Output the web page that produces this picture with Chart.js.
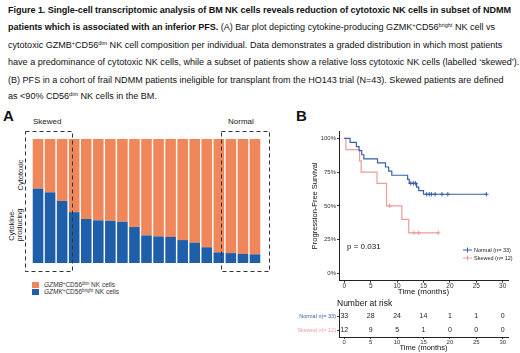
<!DOCTYPE html>
<html lang="en">
<head>
<meta charset="UTF-8">
<title>Figure 1 - BM NK cells</title>
<script src="https://cdn.jsdelivr.net/npm/chart.js"></script>
<style>
  body { margin: 0; background: #fff; font-family: "Liberation Sans", Arial, sans-serif; color: #111; }
  #page { position: relative; width: 520px; height: 353px; overflow: hidden; }
  .abs { position: absolute; white-space: nowrap; }
  .cap { left: 8px; font-size: 9.05px; line-height: 10px; }
  .cap b { letter-spacing: -0.04px; }
  .cap sup { font-size: 5.5px; vertical-align: 3px; line-height: 0; }
  .panel { font-weight: bold; font-size: 15px; line-height: 15px; }
  .rot { position: absolute; transform: translate(-50%, -50%) rotate(-90deg); text-align: center; white-space: nowrap; }
  .leg { font-size: 6.5px; line-height: 7px; color: #333; }
  .leg i { font-style: italic; }
  .leg sup { font-size: 4.5px; vertical-align: 2px; line-height: 0; }
  .sw { display: inline-block; width: 7px; height: 6px; vertical-align: -1px; margin-right: 5px; }
  canvas { position: absolute; }
</style>
</head>
<body>
<div id="page">
  <div class="abs cap" style="top:5px"><b>Figure 1. Single-cell transcriptomic analysis of BM NK cells reveals reduction of cytotoxic NK cells in subset of NDMM</b></div>
  <div class="abs cap" style="top:22px"><b>patients which is associated with an inferior PFS.</b> (A) Bar plot depicting cytokine-producing GZMK<sup>+</sup>CD56<sup>bright</sup> NK cell vs</div>
  <div class="abs cap" style="top:40px">cytotoxic GZMB<sup>+</sup>CD56<sup>dim</sup> NK cell composition per individual. Data demonstrates a graded distribution in which most patients</div>
  <div class="abs cap" style="top:57px">have a predominance of cytotoxic NK cells, while a subset of patients show a relative loss cytotoxic NK cells (labelled ‘skewed’).</div>
  <div class="abs cap" style="top:75px">(B) PFS in a cohort of frail NDMM patients ineligible for transplant from the HO143 trial (N=43). Skewed patients are defined</div>
  <div class="abs cap" style="top:91px">as &lt;90% CD56<sup>dim</sup> NK cells in the BM.</div>

  <div class="abs panel" style="left:3px; top:108px">A</div>
  <div class="abs panel" style="left:296px; top:108px">B</div>

  <div class="abs" style="left:33px; top:117px; font-size:8px; color:#222">Skewed</div>
  <div class="abs" style="left:228px; top:117px; font-size:8px; color:#222">Normal</div>
  <div class="rot" style="left:20px; top:175px; font-size:7.5px; color:#222">Cytotoxic</div>
  <div class="rot" style="left:16px; top:225px; font-size:7.5px; line-height:8px; color:#222">Cytokine-<br>producing</div>

  <canvas id="barA" width="255" height="152" style="left:20px; top:125px"></canvas>

  <div class="abs leg" style="left:32px; top:281px"><span class="sw" style="background:#F0875A"></span><i>GZMB</i><sup>+</sup>CD56<sup>dim</sup> NK cells</div>
  <div class="abs leg" style="left:32px; top:288px"><span class="sw" style="background:#1F5FAA"></span><i>GZMK</i><sup>+</sup>CD56<sup>bright</sup> NK cells</div>

  <canvas id="km" width="224" height="180" style="left:296px; top:125px"></canvas>
  <div class="abs" style="left:347px; top:242px; font-size:8px; color:#111">p = 0.031</div>

  <canvas id="risk" width="224" height="53" style="left:296px; top:300px"></canvas>
  <div class="abs" style="left:337px; top:298px; font-size:8.5px; color:#111">Number at risk</div>
</div>

<script>
  // panel A: per-patient composition (% of NK cells), sorted
  const patients = ['P1','P2','P3','P4','P5','P6','P7','P8','P9','P10','P11','P12','P13','P14','P15','P16','P17','P18','P19'];
  const gzmkBright = [60, 57, 50, 41, 35.5, 34.4, 34, 33.3, 29, 22.3, 21.5, 21, 18.5, 16.4, 12.7, 8.6, 8, 7.3, 7];
  const gzmbDim = [40, 43, 50, 59, 64.5, 65.6, 66, 66.7, 71, 77.7, 78.5, 79, 81.5, 83.6, 87.3, 91.4, 92, 92.7, 93];

  // panel B: Kaplan-Meier steps (months, % progression-free)
  const normalTime = [0, 1.1, 2.3, 2.8, 3.3, 3.7, 6.3, 7.8, 8.4, 9.0, 12.0, 12.3, 13.7, 14.1, 15.0, 26.9];
  const normalSurv = [100, 97.0, 93.9, 90.9, 87.9, 84.8, 81.8, 78.8, 75.8, 72.7, 69.7, 66.7, 63.9, 61.3, 58.6, 58.6];
  const normalCensTime = [12.6, 13.1, 13.5, 15.6, 16.1, 16.5, 17.2, 18.5, 19.6, 26.9];
  const normalCensSurv = [66.7, 66.7, 66.7, 58.6, 58.6, 58.6, 58.6, 58.6, 58.6, 58.6];
  const skewedTime = [0, 0.3, 2.9, 3.2, 6.2, 8.0, 10.9, 12.2, 17.8];
  const skewedSurv = [100, 91.7, 83.3, 75.0, 66.7, 50.0, 40.0, 30.0, 30.0];
  const skewedCensTime = [8.6, 13.2, 14.1, 17.8];
  const skewedCensSurv = [50, 30, 30, 30];

  const timeTicks = [0, 5, 10, 15, 20, 25, 30];
  const survTicks = [0, 25, 50, 75, 100];

  // number at risk table
  const riskGroups = ['Normal n(= 33)', 'Skewed n(= 12)'];
  const riskNormal = [33, 28, 24, 14, 1, 1, 0];
  const riskSkewed = [12, 9, 5, 1, 0, 0, 0];

  const orange = '#F0875A', blue = '#1F5FAA';
  const kmBlue = '#3A5FA8', kmPink = '#EE9B9C';
  const FONT = '"Liberation Sans", Arial, sans-serif';
  Chart.defaults.font.family = FONT;

  // dashed boxes round the two ends of the bar plot (in bar index units)
  const boxPlugin = {
    id: 'boxes',
    afterDatasetsDraw(chart) {
      const ctx = chart.ctx, xs = chart.scales.x, a = chart.chartArea;
      ctx.save();
      ctx.setLineDash([4, 3]);
      ctx.strokeStyle = '#333';
      ctx.lineWidth = 1;
      [[-1.08, 2.84], [15.2, 19.17]].forEach(([i0, i1]) => {
        const x0 = xs.getPixelForValue(i0), x1 = xs.getPixelForValue(i1);
        ctx.strokeRect(Math.round(x0) + 0.5, a.top - 7.5, Math.round(x1 - x0), a.bottom - a.top + 16);
      });
      ctx.restore();
    }
  };

  new Chart(document.getElementById('barA'), {
    type: 'bar',
    data: {
      labels: patients,
      datasets: [
        { label: 'GZMK+CD56bright NK cells', data: gzmkBright, backgroundColor: blue },
        { label: 'GZMB+CD56dim NK cells', data: gzmbDim, backgroundColor: orange }
      ]
    },
    options: {
      responsive: false,
      animation: false,
      layout: { padding: { left: 12, top: 14, right: 14, bottom: 14 } },
      datasets: { bar: { barPercentage: 0.88, categoryPercentage: 1 } },
      plugins: { legend: { display: false }, tooltip: { enabled: false } },
      scales: {
        x: { stacked: true, display: false },
        y: { stacked: true, display: false, min: 0, max: 100 }
      }
    },
    plugins: [boxPlugin]
  });

  function pts(xs, ys) { return xs.map((x, i) => ({ x: x, y: ys[i] })); }

  const kmLegend = {
    id: 'kmLegend',
    afterDraw(chart) {
      const ctx = chart.ctx;
      ctx.save();
      ctx.font = '5.5px ' + FONT;
      ctx.textBaseline = 'middle';
      [['Normal (n= 33)', kmBlue, 125], ['Skewed (n= 12)', kmPink, 133]].forEach(([t, c, y]) => {
        ctx.strokeStyle = c;
        ctx.lineWidth = 1;
        ctx.beginPath();
        ctx.moveTo(167, y); ctx.lineTo(176, y);
        ctx.moveTo(171.5, y - 2.5); ctx.lineTo(171.5, y + 2.5);
        ctx.stroke();
        ctx.fillStyle = '#222';
        ctx.fillText(t, 178, y);
      });
      ctx.restore();
    }
  };

  const axisCommon = {
    grid: { display: true, drawOnChartArea: false, drawTicks: true, tickLength: 2, color: '#333' },
    border: { display: true, color: '#222', width: 1 }
  };

  new Chart(document.getElementById('km'), {
    type: 'scatter',
    data: {
      datasets: [
        { data: pts(normalTime, normalSurv), showLine: true, stepped: true, borderColor: kmBlue, borderWidth: 1.2, pointRadius: 0 },
        { data: pts(skewedTime, skewedSurv), showLine: true, stepped: true, borderColor: kmPink, borderWidth: 1.2, pointRadius: 0 },
        { data: pts(normalCensTime, normalCensSurv), showLine: false, pointStyle: 'cross', pointRadius: 2.2, borderColor: kmBlue, borderWidth: 1 },
        { data: pts(skewedCensTime, skewedCensSurv), showLine: false, pointStyle: 'cross', pointRadius: 2.2, borderColor: kmPink, borderWidth: 1 }
      ]
    },
    options: {
      responsive: false,
      animation: false,
      layout: { padding: { left: 0, top: 6, right: 12, bottom: 0 } },
      plugins: { legend: { display: false }, tooltip: { enabled: false } },
      scales: {
        x: Object.assign({}, axisCommon, {
          type: 'linear', min: -1, max: 31,
          afterBuildTicks: s => { s.ticks = timeTicks.map(v => ({ value: v })); },
          afterFit: s => { s.height = 24.3; },
          ticks: { font: { size: 6.5 }, color: '#333', padding: 0, maxRotation: 0 },
          title: { display: true, text: 'Time (months)', font: { size: 8 }, color: '#111', padding: { top: 0, bottom: 8.5 } }
        }),
        y: Object.assign({}, axisCommon, {
          type: 'linear', min: -5.5, max: 105.5,
          afterBuildTicks: s => { s.ticks = survTicks.map(v => ({ value: v })); },
          afterFit: s => { s.width = 43; },
          ticks: { font: { size: 6 }, color: '#333', padding: 1, callback: v => v + '%' },
          title: { display: true, text: 'Progression-Free Survival', font: { size: 7.5 }, color: '#111', padding: { top: 14, bottom: 0 } }
        })
      }
    },
    plugins: [kmLegend]
  });

  const riskText = {
    id: 'riskText',
    afterDraw(chart) {
      const ctx = chart.ctx, xs = chart.scales.x, ys = chart.scales.y;
      ctx.save();
      ctx.font = '7px ' + FONT;
      ctx.fillStyle = '#222';
      ctx.textAlign = 'center';
      ctx.textBaseline = 'middle';
      [[riskNormal, 1.5], [riskSkewed, 0.5]].forEach(([row, yv]) => {
        row.forEach((n, j) => ctx.fillText(String(n), xs.getPixelForValue(timeTicks[j]), ys.getPixelForValue(yv)));
      });
      ctx.restore();
    }
  };

  new Chart(document.getElementById('risk'), {
    type: 'scatter',
    data: { datasets: [] },
    options: {
      responsive: false,
      animation: false,
      layout: { padding: { left: 0, top: 9, right: 12, bottom: 0 } },
      plugins: { legend: { display: false }, tooltip: { enabled: false } },
      scales: {
        x: Object.assign({}, axisCommon, {
          type: 'linear', min: -1, max: 31,
          afterBuildTicks: s => { s.ticks = timeTicks.map(v => ({ value: v })); },
          afterFit: s => { s.height = 16; },
          ticks: { font: { size: 6 }, color: '#333', padding: 0, maxRotation: 0 },
          title: { display: true, text: 'Time (months)', font: { size: 7.5 }, color: '#111', padding: { top: 0, bottom: 0.5 } }
        }),
        y: Object.assign({}, axisCommon, {
          type: 'linear', min: 0, max: 2,
          afterBuildTicks: s => { s.ticks = [1.5, 0.5].map(v => ({ value: v })); },
          afterFit: s => { s.width = 43; },
          ticks: {
            font: { size: 5.5 }, padding: 1,
            color: c => c.tick && c.tick.value > 1 ? kmBlue : kmPink,
            callback: v => v > 1 ? riskGroups[0] : riskGroups[1]
          }
        })
      }
    },
    plugins: [riskText]
  });
</script>
</body>
</html>
